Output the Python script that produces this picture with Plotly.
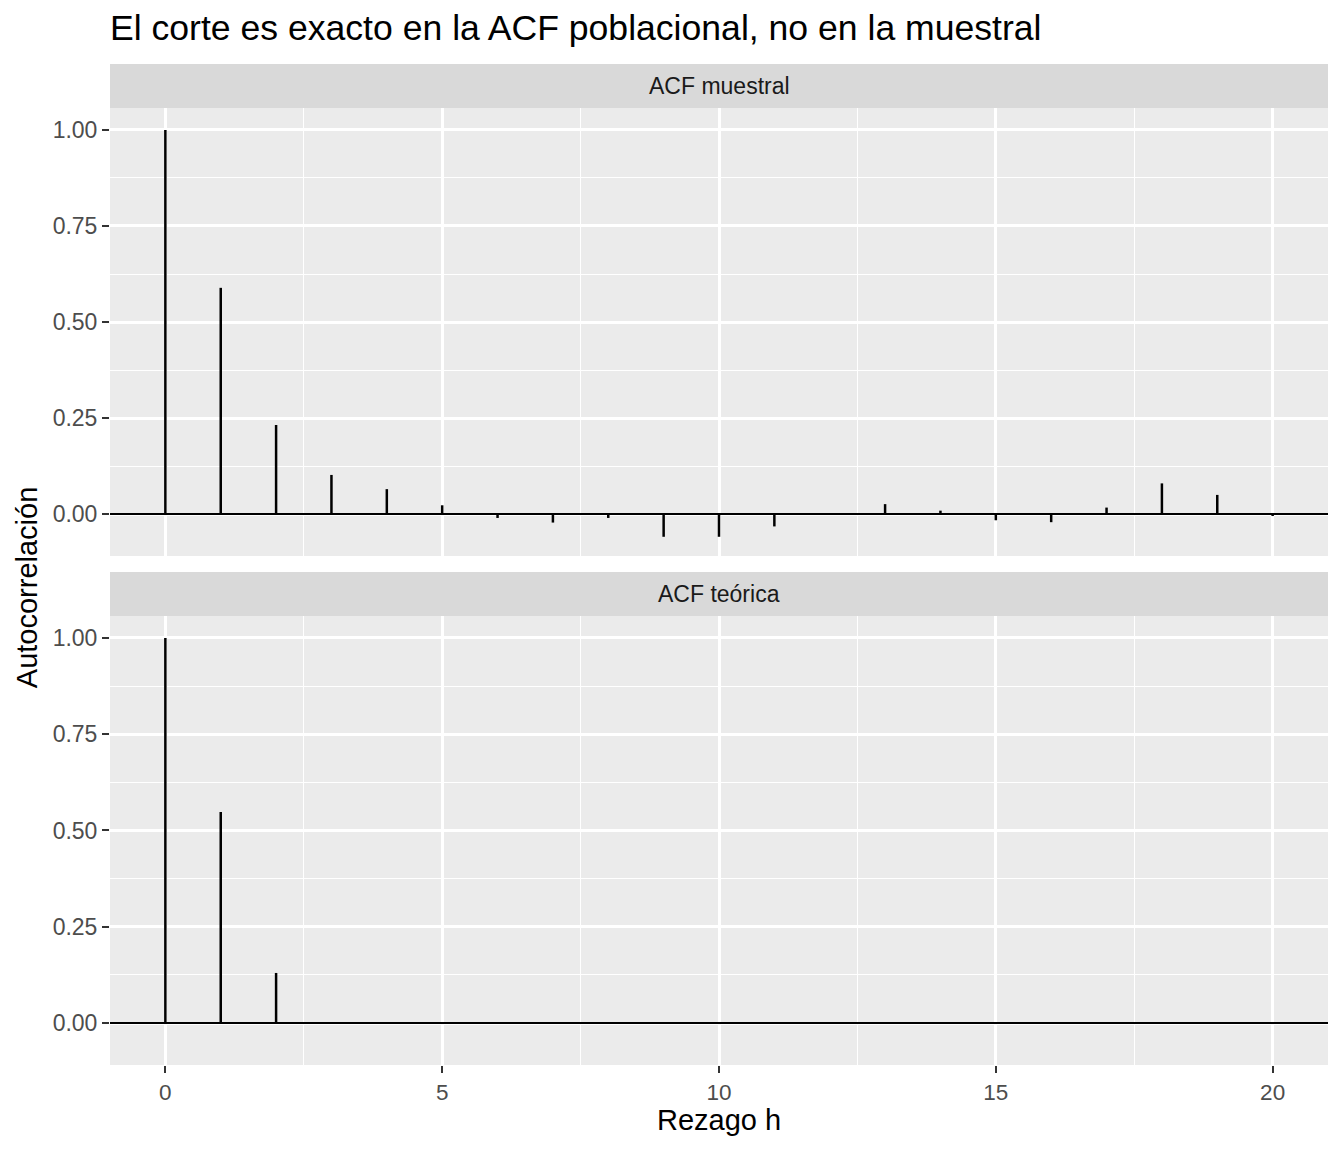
import plotly.graph_objects as go

lags = list(range(0, 21))
acf_muestral = [1.0, 0.589, 0.232, 0.102, 0.065, 0.023, -0.01, -0.022, -0.01, -0.059,
                -0.059, -0.032, -0.002, 0.026, 0.009, -0.016, -0.021, 0.017, 0.08, 0.05, -0.005]
acf_teorica = [1.0, 0.548, 0.13] + [0.0] * 18

panels = ["ACF muestral", "ACF teórica"]
y_ticks = [0.0, 0.25, 0.5, 0.75, 1.0]
y_ticktext = ["0.00", "0.25", "0.50", "0.75", "1.00"]
x_ticks = [0, 5, 10, 15, 20]

# panel domains in paper coords (top panel, bottom panel) and strip heights
dom_top = [0.5085, 0.956]
dom_bot = [0.0, 0.4486]
strip_h = 0.044


def stems(x, y):
    xs, ys = [], []
    for a, b in zip(x, y):
        xs += [a, a, None]
        ys += [0, b, None]
    return xs, ys


fig = go.Figure()
for i, vals in enumerate([acf_muestral, acf_teorica]):
    xs, ys = stems(lags, vals)
    ax = "" if i == 0 else "2"
    # hline at 0
    fig.add_trace(go.Scatter(x=[-1, 21], y=[0, 0], mode="lines", line=dict(color="black", width=2),
                             xaxis="x" + ax, yaxis="y" + ax, showlegend=False, hoverinfo="skip"))
    fig.add_trace(go.Scatter(x=xs, y=ys, mode="lines", line=dict(color="black", width=2.5),
                             xaxis="x" + ax, yaxis="y" + ax, showlegend=False, hoverinfo="skip"))

xcommon = dict(range=[-1, 21], tickvals=x_ticks, showgrid=True, gridcolor="white", gridwidth=2.5,
               zeroline=False, ticklen=7, tickwidth=2, tickcolor="#333333",
               tickfont=dict(size=22.5, color="#4D4D4D"),
               minor=dict(dtick=2.5, tick0=0, showgrid=True, gridcolor="white", gridwidth=1.3, ticks=""))
ycommon = dict(range=[-0.109, 1.057], tickvals=y_ticks, ticktext=y_ticktext, showgrid=True,
               gridcolor="white", gridwidth=2.5, zeroline=False, ticks="outside", ticklen=7,
               tickwidth=2, tickcolor="#333333", tickfont=dict(size=23, color="#4D4D4D"),
               minor=dict(tickvals=[-0.125, 0.125, 0.375, 0.625, 0.875], showgrid=True,
                          gridcolor="white", gridwidth=1.3, ticks=""))

fig.update_layout(
    width=1336, height=1144,
    margin=dict(l=102, r=16, t=56, b=87),
    paper_bgcolor="white", plot_bgcolor="#EBEBEB",
    font=dict(family="Liberation Sans, Arial, sans-serif", color="black"),
    xaxis=dict(**xcommon, anchor="y", showticklabels=False, ticks=""),
    yaxis=dict(**ycommon, domain=dom_top, anchor="x"),
    xaxis2=dict(**xcommon, anchor="y2", matches="x", ticks="outside"),
    yaxis2=dict(**ycommon, domain=dom_bot, anchor="x2"),
)

shapes, annotations = [], []
for name, dom in zip(panels, [dom_top, dom_bot]):
    shapes.append(dict(type="rect", xref="paper", yref="paper", x0=0, x1=1,
                       y0=dom[1], y1=dom[1] + strip_h, fillcolor="#D9D9D9", line=dict(width=0),
                       layer="below"))
    annotations.append(dict(text=name, xref="paper", yref="paper", x=0.5, y=dom[1] + strip_h / 2,
                            showarrow=False, font=dict(size=23, color="#1A1A1A"), yanchor="middle"))

annotations.append(dict(text="El corte es exacto en la ACF poblacional, no en la muestral",
                        xref="paper", yref="paper", x=-0.002, y=1.036, xanchor="left", yanchor="middle",
                        showarrow=False, font=dict(size=35.6, color="black")))
annotations.append(dict(text="Autocorrelación", xref="paper", yref="paper", x=-0.068, y=0.4775,
                        textangle=-90, showarrow=False, font=dict(size=29, color="black"),
                        xanchor="center", yanchor="middle"))
annotations.append(dict(text="Rezago h", xref="paper", yref="paper", x=0.5, y=-0.055,
                        showarrow=False, font=dict(size=29, color="black"),
                        xanchor="center", yanchor="middle"))
fig.update_layout(shapes=shapes, annotations=annotations)

fig.write_html("out.html")
